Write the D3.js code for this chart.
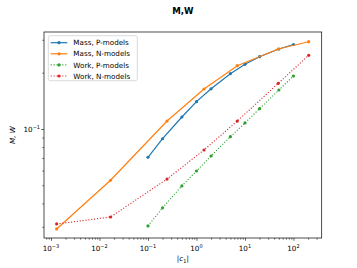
<!DOCTYPE html>
<html><head><meta charset="utf-8">
<script src="https://cdn.jsdelivr.net/npm/d3@7"></script>
<style>body{margin:0;background:#fff}svg{display:block}text{font-family:"DejaVu Sans",sans-serif}</style>
</head><body>
<svg id="c" width="357" height="268"></svg>
<script>
const seriesNames = ["Mass, P-models","Mass, N-models","Work, P-models","Work, N-models"];
const colors = ["#1f77b4","#ff7f0e","#2ca02c","#d62728"];
const dashed = [false,false,true,true];
const xP = [0.1,0.2,0.5,1,2,5,10,20,50,100];
const xN = [0.00131,0.0169,0.247,1.43,6.94,48.6,206];
const massP = [0.0706,0.0887,0.1159,0.140,0.164,0.1976,0.2218,0.2436,0.2678,0.2831];
const massN = [0.0292,0.0532,0.1103,0.1636,0.2180,0.2678,0.2929];
const workP = [0.0303,0.0379,0.0496,0.0596,0.0717,0.0910,0.1077,0.1284,0.1616,0.1920];
const workN = [0.03105,0.03383,0.0540,0.0772,0.1103,0.1755,0.2478];
const xTickVals = [1e-3,1e-2,1e-1,1e0,1e1,1e2];
const xTickExp = ["−3","−2","−1","0","1","2"];
const yTickVals = [0.1];
const yTickExp = ["−1"];

const xs = [xP,xN,xP,xN];
const ys = [massP,massN,workP,workN];

const L=44,R=321.7,T=32,B=238;
const x = d3.scaleLog().domain([Math.pow(10,-3.144),Math.pow(10,2.582)]).range([L,R]);
const y = d3.scaleLog().domain([Math.pow(10,-1.583),Math.pow(10,-0.4813)]).range([B,T]);
const svg = d3.select("#c");

// minor ticks
const minorX=[];for(let e=-4;e<=3;e++)for(let m=2;m<=9;m++){const v=m*Math.pow(10,e);if(v>=x.domain()[0]&&v<=x.domain()[1])minorX.push(v);}
const minorY=[];for(let e=-2;e<=0;e++)for(let m=2;m<=9;m++){const v=m*Math.pow(10,e);if(v>=y.domain()[0]&&v<=y.domain()[1])minorY.push(v);}

const gx = svg.append("g").attr("transform",`translate(0,${B})`);
gx.call(d3.axisBottom(x).tickValues(minorX).tickSize(1.6).tickFormat(""));
gx.append("g").call(d3.axisBottom(x).tickValues(xTickVals).tickSize(2.8).tickFormat(""));
gx.selectAll(".domain").remove();
gx.selectAll("line").attr("stroke","#000").attr("stroke-width",0.6);
const gy = svg.append("g").attr("transform",`translate(${L},0)`);
gy.call(d3.axisLeft(y).tickValues(minorY).tickSize(1.6).tickFormat(""));
gy.append("g").call(d3.axisLeft(y).tickValues(yTickVals).tickSize(2.8).tickFormat(""));
gy.selectAll(".domain").remove();
gy.selectAll("line").attr("stroke","#000").attr("stroke-width",0.6);

// tick labels
xTickVals.forEach((v,i)=>{
  const t=svg.append("text").attr("x",x(v)).attr("y",B+13).attr("text-anchor","middle").attr("font-size",7.2).attr("fill","#000");
  t.append("tspan").text("10");
  t.append("tspan").attr("dy",-3).attr("font-size",5).text(xTickExp[i]);
});
yTickVals.forEach((v,i)=>{
  const t=svg.append("text").attr("x",L-4).attr("y",y(v)+2.6).attr("text-anchor","end").attr("font-size",7.2).attr("fill","#000");
  t.append("tspan").text("10");
  t.append("tspan").attr("dy",-3).attr("font-size",5).text(yTickExp[i]);
});

// lines
const line = d3.line().x(d=>x(d[0])).y(d=>y(d[1]));
seriesNames.forEach((n,i)=>{
  const pts = xs[i].map((xv,j)=>[xv,ys[i][j]]);
  svg.append("path").datum(pts).attr("d",line).attr("fill","none").attr("stroke",colors[i])
    .attr("stroke-width",dashed[i]?1.1:1.2).attr("stroke-dasharray",dashed[i]?"1.1,1.8":null);
  svg.append("g").selectAll("circle").data(pts).join("circle").attr("cx",d=>x(d[0])).attr("cy",d=>y(d[1])).attr("r",1.6).attr("fill",colors[i]);
});

// frame
svg.append("rect").attr("x",L).attr("y",T).attr("width",R-L).attr("height",B-T).attr("fill","none").attr("stroke","#000").attr("stroke-width",0.7);

// legend
const lg = svg.append("g");
lg.append("rect").attr("x",48.3).attr("y",35.7).attr("width",89).attr("height",45).attr("rx",2).attr("fill","#fff").attr("fill-opacity",0.8).attr("stroke","#ccc").attr("stroke-width",0.7);
seriesNames.forEach((n,i)=>{
  const yy = 42.7 + i*11.1;
  lg.append("line").attr("x1",50.7).attr("x2",67.3).attr("y1",yy).attr("y2",yy).attr("stroke",colors[i]).attr("stroke-width",1.2).attr("stroke-dasharray",dashed[i]?"1.1,1.8":null);
  lg.append("circle").attr("cx",59).attr("cy",yy).attr("r",1.6).attr("fill",colors[i]);
  lg.append("text").attr("x",73.3).attr("y",yy+2.6).attr("font-size",7.2).attr("fill","#000").text(n);
});

// title & axis labels
svg.append("text").attr("x",(L+R)/2).attr("y",14).attr("text-anchor","middle").attr("font-size",8.6).attr("font-weight","bold").text("M,W");
const xl = svg.append("text").attr("x",(L+R)/2).attr("y",261).attr("text-anchor","middle").attr("font-size",7.2);
xl.append("tspan").text("|");
xl.append("tspan").attr("font-style","italic").text("c");
xl.append("tspan").attr("dy",1.5).attr("font-size",5).text("1");
xl.append("tspan").attr("dy",-1.5).text("|");
svg.append("text").attr("transform",`translate(15,${(T+B)/2}) rotate(-90)`).attr("text-anchor","middle").attr("font-size",7.2).attr("font-style","italic").text("M, W");
</script>
</body></html>
